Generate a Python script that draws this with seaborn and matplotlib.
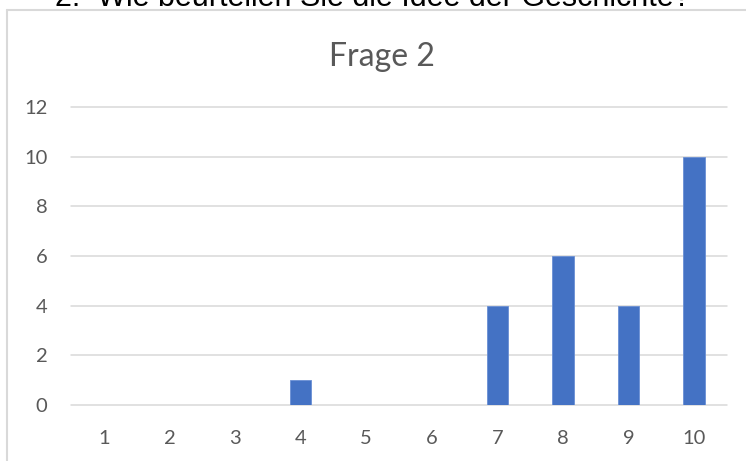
import matplotlib
matplotlib.use("Agg")
import matplotlib.pyplot as plt
import seaborn as sns
import pandas as pd
from matplotlib.lines import Line2D

# Data: number of answers per rating (1-10)
ratings = ["1", "2", "3", "4", "5", "6", "7", "8", "9", "10"]
counts = [0, 0, 0, 1, 0, 0, 4, 6, 4, 10]
y_ticks = [0, 2, 4, 6, 8, 10, 12]

chart_title = "Frage 2"
question = "2.  Wie beurteilen Sie die Idee der Geschichte?"

sns.set_theme(style="white")
plt.rcParams["font.family"] = ["Lato", "DejaVu Sans"]

W, H = 746, 461
fig = plt.figure(figsize=(W / 100, H / 100), dpi=100)
fig.patch.set_facecolor("white")

def fx(px):
    return px / W

def fy(py):
    return 1 - py / H

# Plot area
left, right, top, bottom = 71, 727, 107, 405
ax = fig.add_axes([fx(left), fy(bottom), fx(right - left), (bottom - top) / H])

df = pd.DataFrame({"rating": ratings, "count": counts})
sns.barplot(data=df, x="rating", y="count", order=ratings, color="#4472C4",
            saturation=1, width=0.33, edgecolor="#6a8fd4", linewidth=0.6, ax=ax)

ax.set_ylim(0, 12)
ax.set_xlim(-0.5, len(ratings) - 0.5)
ax.set_yticks(y_ticks)
ax.set_yticklabels([str(t) for t in y_ticks])
ax.set_xlabel("")
ax.set_ylabel("")
ax.set_axisbelow(True)
ax.yaxis.grid(True, color="#d9d9d9", linewidth=1.1)
ax.xaxis.grid(False)
for s in ax.spines.values():
    s.set_visible(False)
for gl in ax.get_ygridlines():
    gl.set_clip_on(False)
ax.tick_params(axis="both", length=0, labelsize=14.5, labelcolor="#595959")
ax.tick_params(axis="y", pad=17)
ax.tick_params(axis="x", pad=18)

# Chart title
fig.text(fx(381.5), fy(66), chart_title, ha="center", va="baseline",
         fontsize=23, color="#595959")

# Chart frame (left and top edges)
fig.add_artist(Line2D([fx(7), fx(7)], [fy(10), 0], color="#d9d9d9",
                      linewidth=1.5, transform=fig.transFigure))
fig.add_artist(Line2D([fx(7), 1], [fy(10), fy(10)], color="#d9d9d9",
                      linewidth=1.5, transform=fig.transFigure))

# Question heading above the chart
fig.text(fx(55), fy(5.5), question, ha="left", va="baseline",
         fontsize=22, color="black", family=["Liberation Sans", "DejaVu Sans"])

fig.savefig("out.png", dpi=100, facecolor="white")
